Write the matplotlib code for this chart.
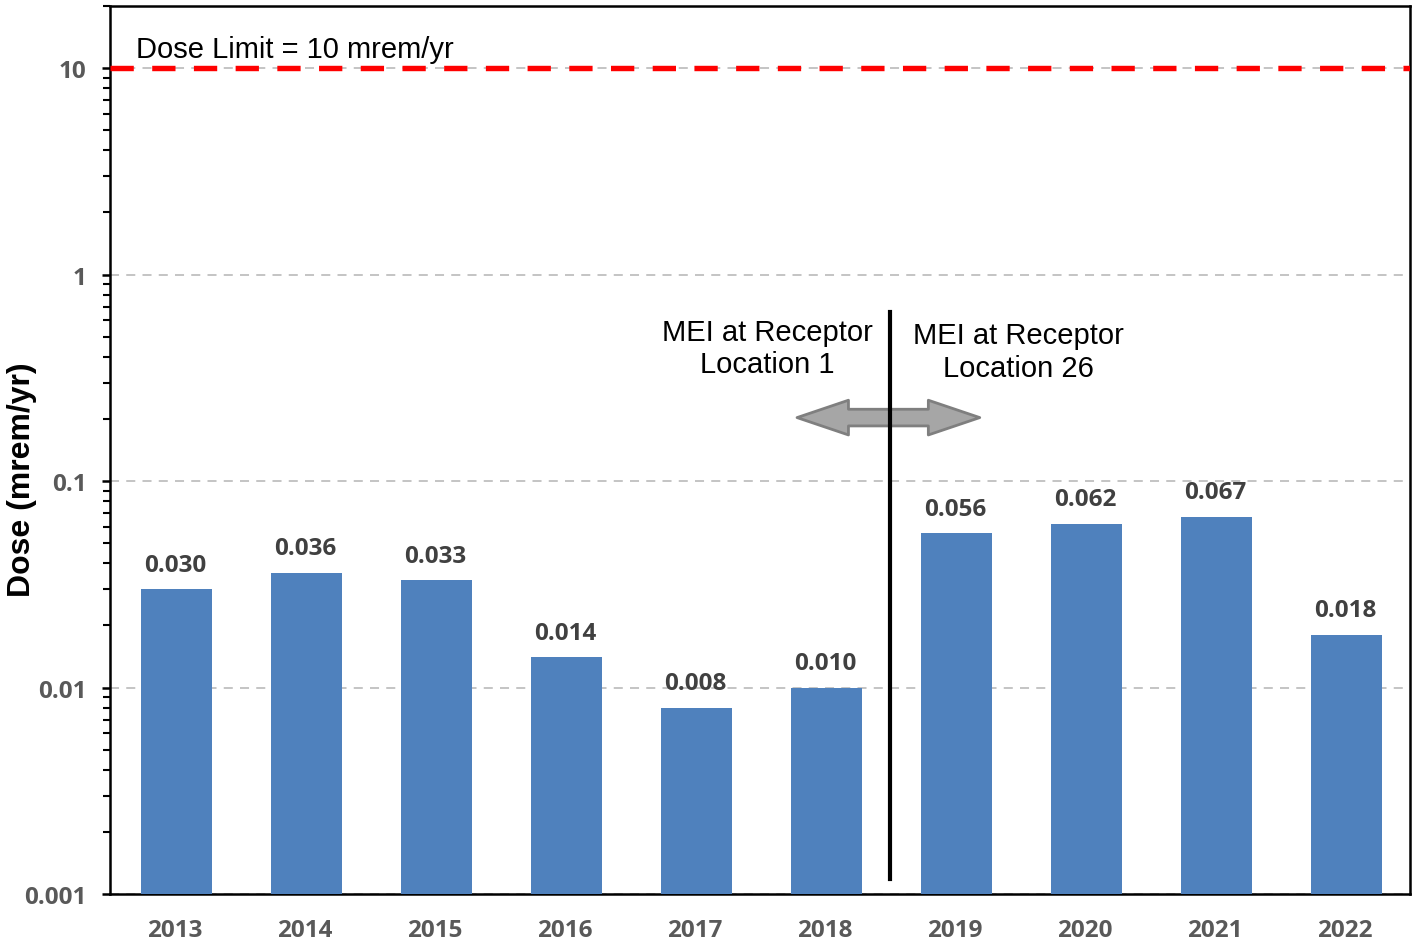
import numpy as np
import matplotlib.pyplot as plt
from matplotlib.ticker import LogLocator, FixedLocator, NullFormatter

years = ["2013", "2014", "2015", "2016", "2017", "2018", "2019", "2020", "2021", "2022"]
dose = [0.030, 0.036, 0.033, 0.014, 0.008, 0.010, 0.056, 0.062, 0.067, 0.018]
dose_labels = ["0.030", "0.036", "0.033", "0.014", "0.008", "0.010", "0.056", "0.062", "0.067", "0.018"]
dose_limit = 10
yticks = [0.001, 0.01, 0.1, 1, 10]
ytick_labels = ["0.001", "0.01", "0.1", "1", "10"]

bar_color = "#4F81BD"
tick_color = "#595959"
label_color = "#404040"

fig = plt.figure(figsize=(14.19, 9.45), dpi=100)
ax = fig.add_axes([0.0775, 0.0529, 0.9162, 0.9397])

x = np.arange(len(years))
ax.bar(x + 0.01, dose, width=0.55, color=bar_color, zorder=3)

ax.set_yscale("log")
ax.set_ylim(0.001, 20)
ax.set_xlim(-0.5, len(years) - 0.5)

# gridlines only at decades
ax.yaxis.set_major_locator(FixedLocator(yticks))
ax.set_yticklabels(ytick_labels)
ax.yaxis.set_minor_locator(LogLocator(base=10, subs=np.arange(2, 10)))
ax.yaxis.set_minor_formatter(NullFormatter())
ax.grid(axis="y", which="major", linestyle=(0, (5, 4)), color="#BFBFBF", linewidth=1.3, zorder=0)

ax.set_xticks(x)
ax.set_xticklabels(years)
ax.tick_params(axis="x", length=0, pad=17)
ax.tick_params(axis="y", which="major", length=6, width=1.8, direction="out", pad=11)
ax.tick_params(axis="y", which="minor", length=5, width=1.5, direction="out")
for lab in ax.get_xticklabels() + ax.get_yticklabels():
    lab.set_fontfamily("Open Sans")
    lab.set_fontweight("bold")
    lab.set_fontsize(17.5)
    lab.set_color(tick_color)

for sp in ax.spines.values():
    sp.set_linewidth(1.8)
    sp.set_color("black")

# value labels
for xi, v, s in zip(x, dose, dose_labels):
    ax.annotate(s, xy=(xi, v), xytext=(0, 9), textcoords="offset points",
                ha="center", va="bottom", fontsize=17.5, fontweight="bold",
                family="Open Sans", color=label_color, zorder=5)

# dose limit
ax.axhline(dose_limit, color="red", linewidth=3.9, linestyle=(0, (4.3, 3.4)), zorder=4)
ax.text(-0.3, 11.3, "Dose Limit = 10 mrem/yr", fontsize=21, family="Liberation Sans",
        ha="left", va="baseline", color="black")

# receptor change arrows
arrow_style = "simple,head_length=37,head_width=25,tail_width=12"
for x_tip in (4.785, 6.19):
    ax.annotate("", xy=(x_tip, 0.203), xytext=(5.5, 0.203),
                arrowprops=dict(arrowstyle=arrow_style, mutation_scale=1,
                                facecolor="#A6A6A6", edgecolor="#7F7F7F", linewidth=2,
                                shrinkA=0, shrinkB=0), zorder=5)

ax.plot([5.5, 5.5], [0.00118, 0.66], color="black", linewidth=3, zorder=6)

ax.text(4.554, 0.44, "MEI at Receptor\nLocation 1", fontsize=21, family="Liberation Sans",
        ha="center", va="center", linespacing=1.2)
ax.text(6.485, 0.425, "MEI at Receptor\nLocation 26", fontsize=21, family="Liberation Sans",
        ha="center", va="center", linespacing=1.2)

fig.text(0.0155, 0.492, "Dose (mrem/yr)", rotation=90, fontsize=23, fontweight="bold",
         family="Liberation Sans", ha="center", va="center")

fig.savefig("out.png", dpi=100)
